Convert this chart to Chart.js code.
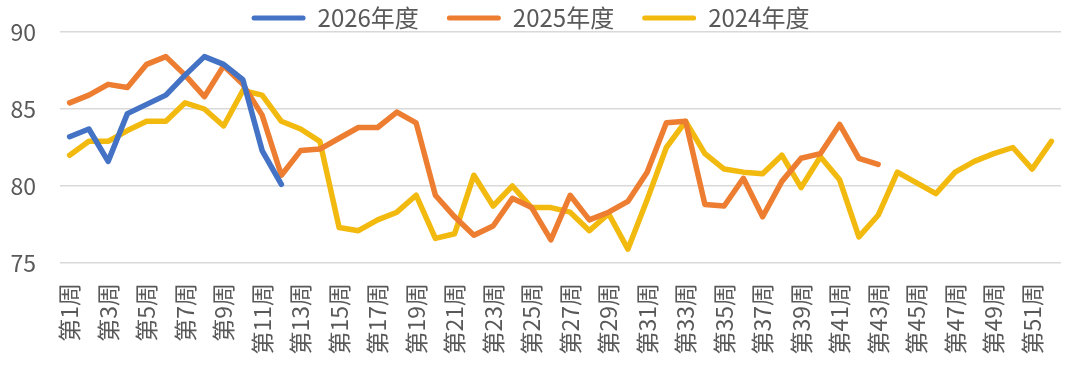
<!DOCTYPE html>
<html>
<head>
<meta charset="utf-8">
<script src="https://cdn.jsdelivr.net/npm/chart.js@4/dist/chart.umd.min.js"></script>
<style>
  html, body { margin: 0; padding: 0; background: #fff; }
  #wrap { width: 1070px; height: 365px; }
</style>
</head>
<body>
<div id="wrap"><canvas id="lineChart" width="1070" height="365"></canvas></div>
<script>
// weeks 1..52
var weeks = [];
for (var w = 1; w <= 52; w++) weeks.push('第' + w + '周');

var yTicks = [75, 80, 85, 90];

var y2026 = [83.2, 83.7, 81.6, 84.7, 85.3, 85.9, 87.2, 88.4, 87.9, 86.9, 82.3, 80.1];

var y2025 = [85.4, 85.9, 86.6, 86.4, 87.9, 88.4, 87.2, 85.8, 87.8, 86.6, 84.6, 80.7,
             82.3, 82.4, 83.1, 83.8, 83.8, 84.8, 84.1, 79.4, 78.0, 76.8, 77.4, 79.2,
             78.6, 76.5, 79.4, 77.8, 78.3, 79.0, 80.9, 84.1, 84.2, 78.8, 78.7, 80.5,
             78.0, 80.3, 81.8, 82.1, 84.0, 81.8, 81.4];

var y2024 = [82.0, 82.9, 82.9, 83.6, 84.2, 84.2, 85.4, 85.0, 83.9, 86.2, 85.9, 84.2,
             83.7, 82.9, 77.3, 77.1, 77.8, 78.3, 79.4, 76.6, 76.9, 80.7, 78.7, 80.0,
             78.6, 78.6, 78.3, 77.1, 78.2, 75.9, 79.1, 82.5, 84.2, 82.1, 81.1, 80.9,
             80.8, 82.0, 79.9, 81.9, 80.4, 76.7, 78.1, 80.9, 80.2, 79.5, 80.9, 81.6,
             82.1, 82.5, 81.1, 82.9];

var seriesNames = ['2026年度', '2025年度', '2024年度'];
var seriesColors = ['#4472C4', '#ED7D31', '#F2B90F'];

var cjkFont = "'Noto Sans CJK SC', 'Noto Sans', sans-serif";

function makeSet(i, data) {
    return {
        label: seriesNames[i],
        data: data,
        borderColor: seriesColors[i],
        backgroundColor: seriesColors[i],
        borderWidth: 5.5,
        pointRadius: 0,
        pointHoverRadius: 0,
        borderJoinStyle: 'round',
        borderCapStyle: 'round',
        tension: 0,
        fill: false
    };
}

// legend: fixed height so the plot top lands on the 90 gridline
var legendFit = {
    id: 'legendFit',
    beforeLayout: function (chart) {
        var lg = chart.legend;
        if (lg && !lg._fixedFit) {
            var origFit = lg.fit;
            lg.fit = function () {
                origFit.call(this);
                this.height = 54;
            };
            lg._fixedFit = true;
        }
    }
};

var ctx = document.getElementById('lineChart');

new Chart(ctx, {
    type: 'line',
    plugins: [legendFit],
    data: {
        labels: weeks,
        datasets: [makeSet(0, y2026), makeSet(1, y2025), makeSet(2, y2024)]
    },
    options: {
        responsive: false,
        animation: false,
        layout: { padding: { top: -22, right: 9, left: 0, bottom: 0 } },
        plugins: {
            tooltip: { enabled: false },
            legend: {
                display: true,
                position: 'top',
                labels: {
                    boxWidth: 54,
                    boxHeight: 5,
                    padding: 28,
                    color: '#595959',
                    font: { family: cjkFont, size: 24 },
                    useBorderRadius: true,
                    borderRadius: 2.5,
                    generateLabels: function (chart) {
                        var items = Chart.defaults.plugins.legend.labels.generateLabels(chart);
                        items.forEach(function (it) {
                            it.lineWidth = 0;
                            it.fillStyle = seriesColors[it.datasetIndex];
                        });
                        return items;
                    }
                }
            }
        },
        scales: {
            x: {
                offset: true,
                grid: { display: false },
                border: { display: false },
                afterFit: function (scale) {
                    scale.height = 102;
                    scale.paddingLeft = 0;
                    scale.paddingRight = 0;
                },
                ticks: {
                    autoSkip: false,
                    maxRotation: 90,
                    minRotation: 90,
                    padding: 12,
                    color: '#595959',
                    font: { family: cjkFont, size: 23 },
                    callback: function (v, i) { return i % 2 === 0 ? weeks[i] : ''; }
                }
            },
            y: {
                min: 75,
                max: 90,
                afterFit: function (scale) {
                    scale.width = 60;
                    scale.paddingTop = 0;
                    scale.paddingBottom = 0;
                },
                afterBuildTicks: function (scale) {
                    scale.ticks = yTicks.map(function (v) { return { value: v }; });
                },
                grid: { color: '#d9d9d9', lineWidth: 1.5, drawTicks: false },
                border: { display: false },
                ticks: {
                    padding: 24,
                    color: '#595959',
                    font: { family: cjkFont, size: 23 }
                }
            }
        }
    }
});
</script>
</body>
</html>
